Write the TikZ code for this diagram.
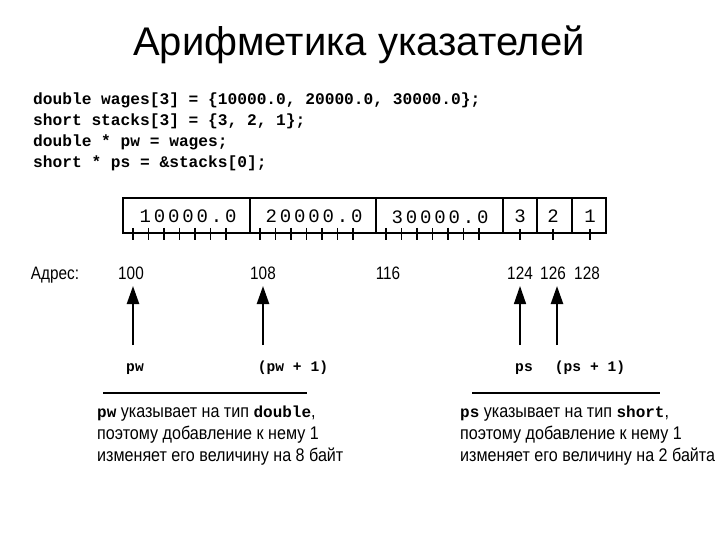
\documentclass[tikz,border=0pt]{standalone}
\usepackage{fontspec}
\setmainfont{Liberation Sans}
\setmonofont{Liberation Mono}
\newfontfamily\narrowsans[FakeStretch=0.85]{Liberation Sans}
\newfontfamily\notesans[FakeStretch=0.88]{Liberation Sans}
\newfontfamily\cellmono[LetterSpace=15]{Liberation Mono}
\usetikzlibrary{arrows.meta}

\tikzset{
  codeline/.style={anchor=base west, inner sep=0pt, font=\fontsize{16.2}{21}\selectfont\ttfamily\bfseries},
  cellval/.style={inner sep=0pt, font=\fontsize{19}{22}\selectfont\cellmono},
  addr/.style={anchor=base, inner sep=0pt, font=\fontsize{18}{22}\selectfont\narrowsans},
  ptrname/.style={anchor=base, inner sep=0pt, font=\fontsize{14.6}{18}\selectfont\ttfamily\bfseries},
  note/.style={anchor=base west, inner sep=0pt, font=\fontsize{18.3}{22}\selectfont\notesans},
  ptr/.style={line width=2.4pt, -{Triangle[length=18pt,width=12pt]}},
}

\begin{document}
\begin{tikzpicture}[x=1pt,y=-1pt]
				\useasboundingbox (0,0) rectangle (720,540);
				\node[anchor=base, inner sep=0pt, font=\fontsize{40}{44}\selectfont] (title) at (359,56) {Арифметика указателей};
				% code
				\node[codeline] (code1) at (33,105) {double wages[3] = \{10000.0, 20000.0, 30000.0\};};
				\node[codeline] (code2) at (33,126) {short stacks[3] = \{3, 2, 1\};};
				\node[codeline] (code3) at (33,147) {double * pw = wages;};
				\node[codeline] (code4) at (33,168) {short * ps = \&stacks[0];};
				% memory
				\draw[line width=2.4pt] (123,198) rectangle (606,233);
				\foreach \x in {250,376,503,537,572}
					\draw[line width=1.4pt] (\x,198) -- (\x,233);
				\foreach \c in {123,250,376}
					\foreach \i in {0,...,6}
						\draw[line width=1.6pt] (\c+10+15.5*\i,228) -- (\c+10+15.5*\i,240);
				\foreach \x in {520,553,590}
					\draw[line width=1.6pt] (\x,229) -- (\x,240);
				\node[cellval] (w1) at (188,216) {10000.0};
				\node[cellval] (w2) at (314,216) {20000.0};
				\node[cellval] (w3) at (440,217) {30000.0};
				\node[cellval] (s1) at (520,216) {3};
				\node[cellval] (s2) at (553,216) {2};
				\node[cellval] (s3) at (590,216) {1};
				% addresses
				\node[addr] (adr) at (55,279) {Адрес:};
				\node[addr] (a100) at (131,279) {100};
				\node[addr] (a108) at (263,279) {108};
				\node[addr] (a116) at (388,279) {116};
				\node[addr] (a124) at (520,279) {124};
				\node[addr] (a126) at (553,279) {126};
				\node[addr] (a128) at (587,279) {128};
				% pointers
				\node[ptrname] (pw) at (135,371) {pw};
				\node[ptrname] (pw1) at (293,371) {(pw + 1)};
				\node[ptrname] (ps) at (524,371) {ps};
				\node[ptrname] (ps1) at (590,371) {(ps + 1)};
				\coordinate (t100) at (133,345);
				\coordinate (t108) at (263,345);
				\coordinate (t124) at (520,345);
				\coordinate (t126) at (557,345);
				\draw[ptr] (t100) -- (133,286);
				\draw[ptr] (t108) -- (263,286);
				\draw[ptr, line width=1.4pt] (t124) -- (520,286);
				\draw[ptr] (t126) -- (557,286);
				% notes
				\draw[line width=1.6pt] (103,393) -- (307,393);
				\draw[line width=1.6pt] (472,393) -- (660,393);
				\node[note] (nw1) at (97,417) {{\fontsize{16}{22}\selectfont\ttfamily\bfseries pw} указывает на тип {\fontsize{16}{22}\selectfont\ttfamily\bfseries double},};
				\node[note] (nw2) at (97,439) {поэтому добавление к нему 1};
				\node[note] (nw3) at (97,461) {изменяет его величину на 8 байт};
				\node[note] (ns1) at (460,417) {{\fontsize{16}{22}\selectfont\ttfamily\bfseries ps} указывает на тип {\fontsize{16}{22}\selectfont\ttfamily\bfseries short},};
				\node[note] (ns2) at (460,439) {поэтому добавление к нему 1};
				\node[note] (ns3) at (460,461) {изменяет его величину на 2 байта};
			\end{tikzpicture}
\end{document}
